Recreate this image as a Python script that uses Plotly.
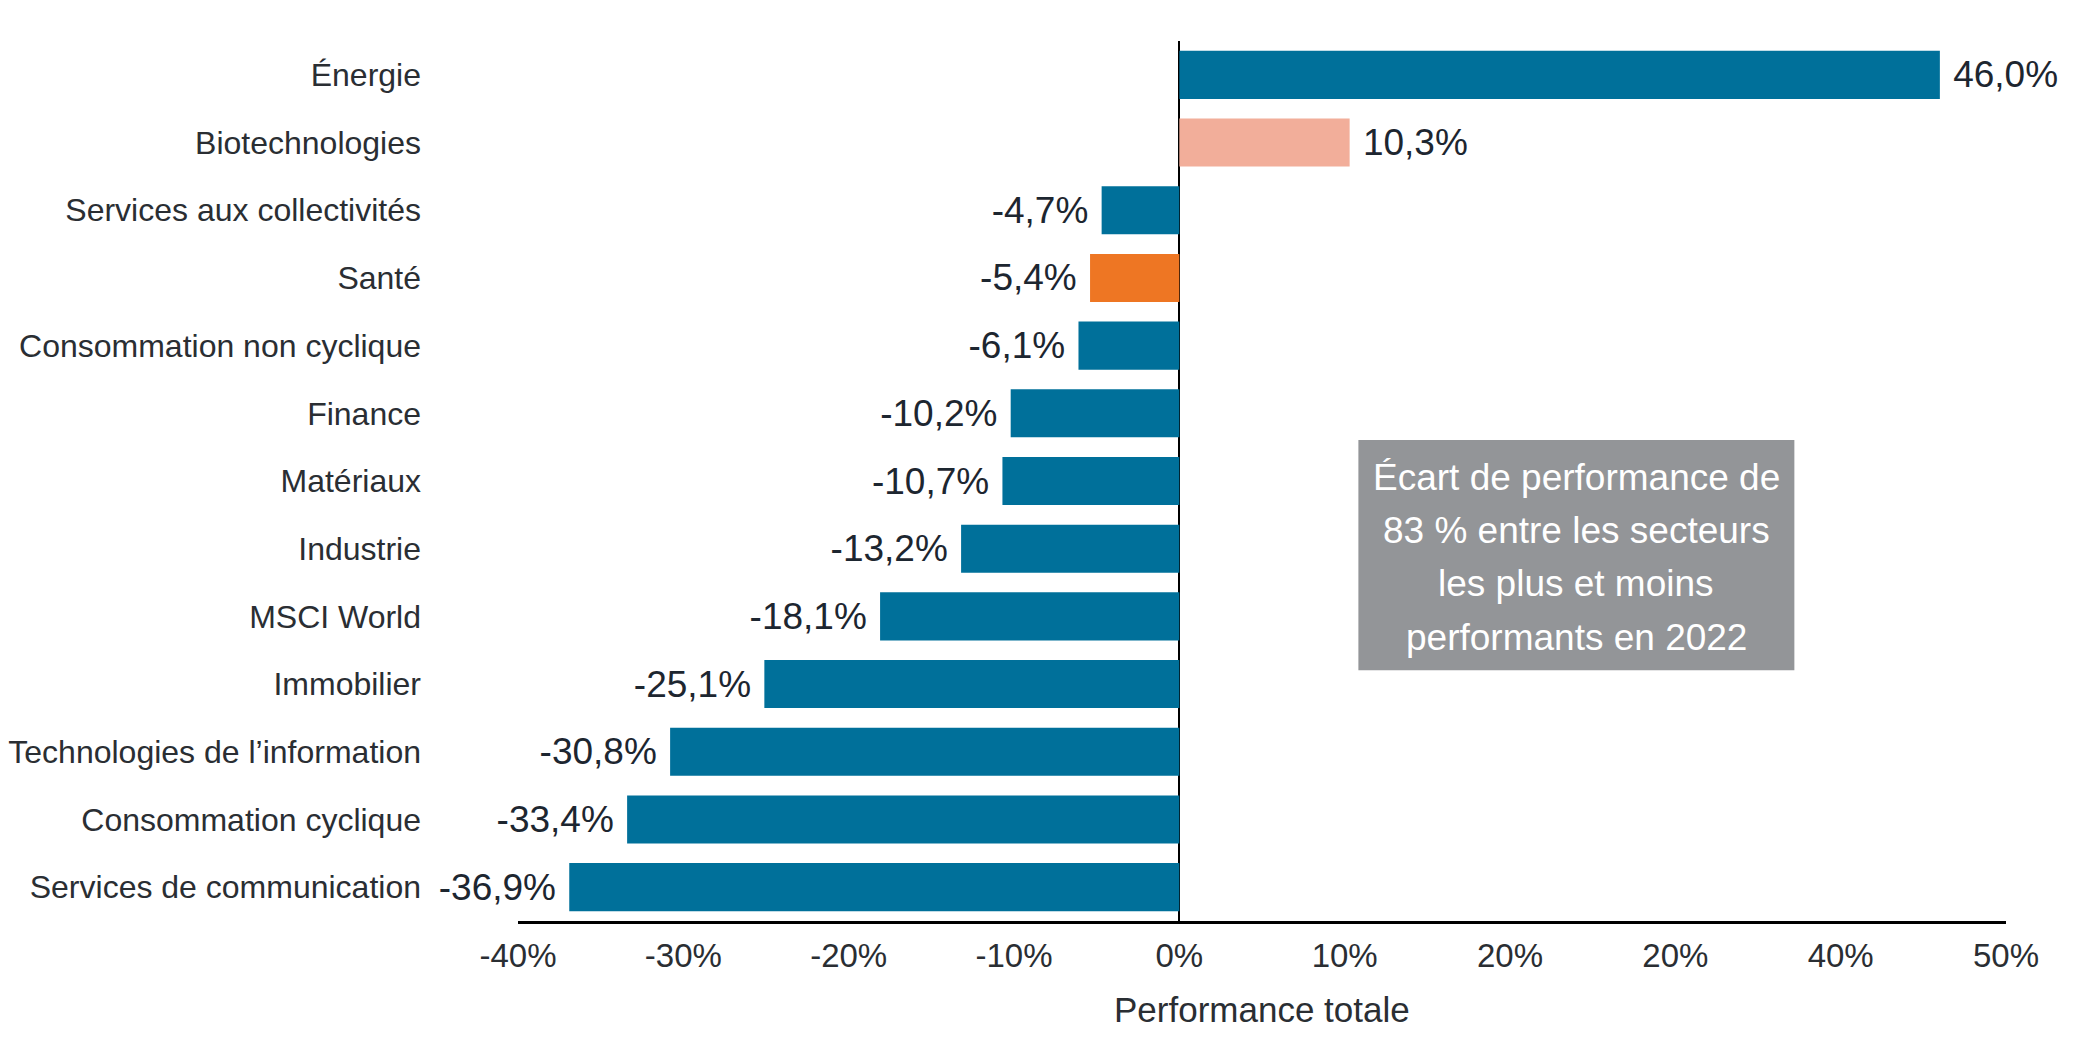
import plotly.graph_objects as go

categories = [
    "Énergie",
    "Biotechnologies",
    "Services aux collectivités",
    "Santé",
    "Consommation non cyclique",
    "Finance",
    "Matériaux",
    "Industrie",
    "MSCI World",
    "Immobilier",
    "Technologies de l’information",
    "Consommation cyclique",
    "Services de communication",
]
values = [46.0, 10.3, -4.7, -5.4, -6.1, -10.2, -10.7, -13.2, -18.1, -25.1, -30.8, -33.4, -36.9]
bar_colors = [
    "#00709A", "#F2AE9A", "#00709A", "#EE7623", "#00709A", "#00709A", "#00709A",
    "#00709A", "#00709A", "#00709A", "#00709A", "#00709A", "#00709A",
]
tick_values = [-40, -30, -20, -10, 0, 10, 20, 30, 40, 50]
tick_labels = ["-40%", "-30%", "-20%", "-10%", "0%", "10%", "20%", "20%", "40%", "50%"]
box_lines = [
    "Écart de performance de",
    "83 % entre les secteurs",
    "les plus et moins",
    "performants en 2022",
]
axis_title = "Performance totale"

NB = "\u00a0"
value_text = [
    (NB + f"{v:.1f}%".replace(".", ",")) if v >= 0 else (f"{v:.1f}%".replace(".", ",") + NB)
    for v in values
]

FONT = "Liberation Sans, Arial, sans-serif"

fig = go.Figure()
fig.add_trace(go.Bar(
    x=values,
    y=categories,
    orientation="h",
    marker=dict(color=bar_colors, line=dict(width=0)),
    width=0.71,
    text=value_text,
    textposition="outside",
    textfont=dict(family=FONT, size=37, color="#1d2630"),
    cliponaxis=False,
    hoverinfo="skip",
))

fig.update_layout(
    width=2057,
    height=1039,
    margin=dict(l=510, r=59, t=33, b=126),
    paper_bgcolor="white",
    plot_bgcolor="white",
    showlegend=False,
    font=dict(family=FONT, color="#222222"),
    xaxis=dict(
        range=[-40, 50],
        tickvals=tick_values,
        ticktext=tick_labels,
        tickfont=dict(family=FONT, size=33, color="#2a2e33"),
        showgrid=False,
        zeroline=True,
        zerolinecolor="black",
        zerolinewidth=2,
        showline=True,
        linecolor="black",
        linewidth=3,
        ticks="",
        ticklabelstandoff=3,
        automargin=False,
        fixedrange=True,
    ),
    yaxis=dict(
        categoryorder="array",
        categoryarray=categories,
        autorange="reversed",
        tickfont=dict(family=FONT, size=32, color="#2a2e33"),
        showgrid=False,
        zeroline=False,
        showline=False,
        ticks="",
        ticklabelstandoff=96,
        automargin=False,
        fixedrange=True,
    ),
)

# grey call-out box
fig.add_shape(
    type="rect", xref="x", yref="paper",
    x0=10.83, x1=37.2, y0=0.285, y1=0.5466,
    fillcolor="#939598", line=dict(width=0), layer="above",
)
line_y = [0.5045, 0.4443, 0.383, 0.3227]
for txt, yy in zip(box_lines, line_y):
    fig.add_annotation(
        x=24.0, xref="x", y=yy, yref="paper",
        text=txt, showarrow=False,
        font=dict(family=FONT, size=37, color="white"),
        xanchor="center", yanchor="middle",
    )

fig.add_annotation(
    x=0.5, xref="paper", y=-0.101, yref="paper",
    text=axis_title, showarrow=False,
    font=dict(family=FONT, size=35, color="#2a2e33"),
    xanchor="center", yanchor="middle",
)

fig.write_html("out.html")
